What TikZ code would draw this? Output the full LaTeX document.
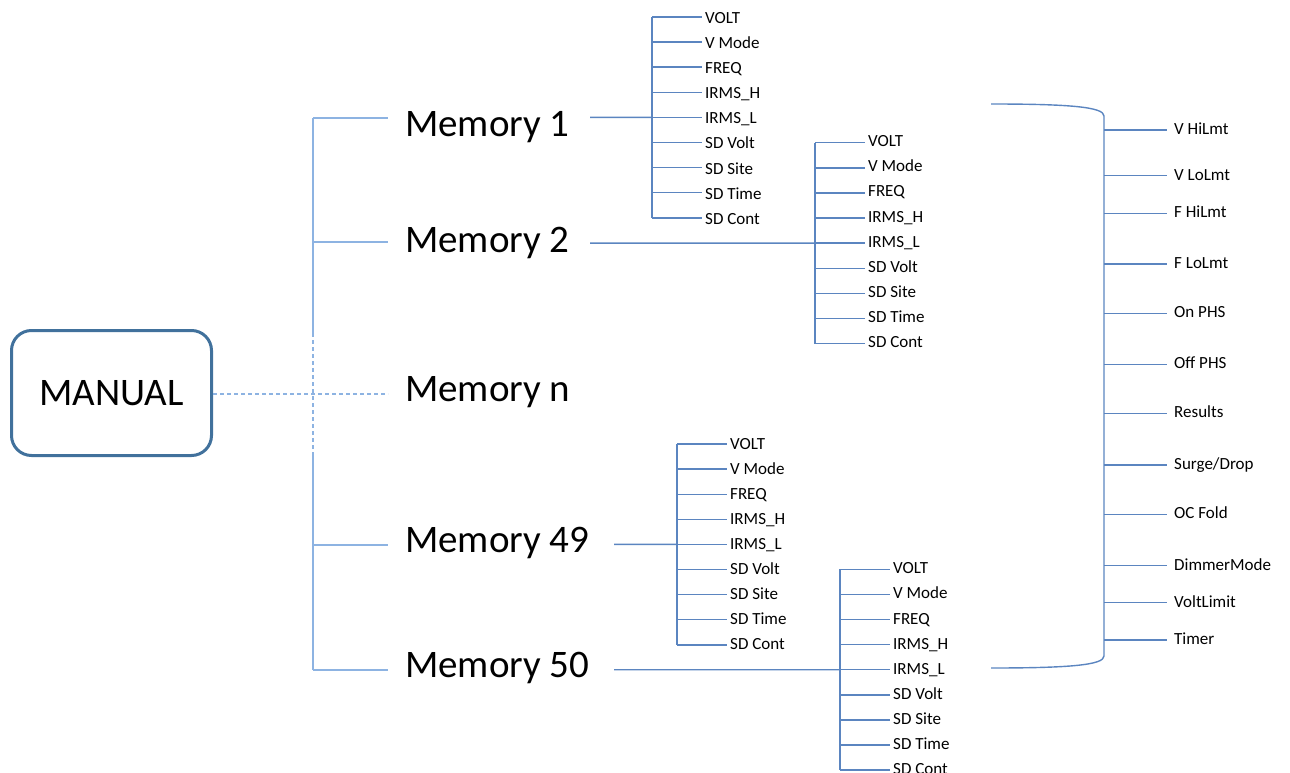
\documentclass[tikz,border=0pt]{standalone}
\usepackage{fontspec}
\setmainfont{Carlito}
\definecolor{trunkc}{HTML}{8DB3E2}
\definecolor{branchc}{HTML}{5B85C0}
\definecolor{boxc}{HTML}{41719C}
\newcommand\bigfont{\fontsize{39}{46}\selectfont}
\newcommand\smallfont{\fontsize{17}{20}\selectfont}
\def\subitems{VOLT,V Mode,FREQ,IRMS\_H,IRMS\_L,SD Volt,SD Site,SD Time,SD Cont}
% #1 name, #2 bus x, #3 first y, #4 baseline offset
\newcommand\subtree[4]{%
  \foreach \t [count=\i] in \subitems {
    \coordinate (#1-b\i) at (#2,{#3+(\i-1)*25.1});
    \node[smalllbl, inner xsep=3pt] (#1-l\i) at ({#2+50},{#3+(\i-1)*25.1+#4}) {\t};
    \draw[branch] (#1-b\i) -- (#1-l\i.west |- #1-b\i);
  }
  \draw[branch] (#1-b1) -- (#1-b9);
}
\tikzset{
  branch/.style={draw=branchc, line width=1.4pt},
  trunk/.style={draw=trunkc, line width=1.4pt},
  trunkdash/.style={draw=trunkc, line width=1.4pt, dash pattern=on 4pt off 3pt},
  memlbl/.style={anchor=base west, inner sep=0pt, font=\bigfont, text=black},
  smalllbl/.style={anchor=base west, inner ysep=0pt, font=\smallfont, text=black},
}
\begin{document}
\begin{tikzpicture}[x=1pt,y=-1pt]
\useasboundingbox (0,0) rectangle (1290,773);

% MANUAL box
\node[draw=boxc, line width=3pt, rounded corners=20pt, minimum width=200pt,
      minimum height=125pt, inner sep=0pt, font=\bigfont] (manual) at (111.5,393) {MANUAL};

% trunk
\coordinate (t1) at (313,118);
\coordinate (t2) at (313,242);
\coordinate (tn) at (313,394);
\coordinate (t49) at (313,545);
\coordinate (t50) at (313,670);
\coordinate (td1) at (313,333);
\coordinate (td2) at (313,455);
\draw[trunk] (t1) -- (td1);
\draw[trunkdash] (td1) -- (td2);
\draw[trunk] (td2) -- (t50);

% memory labels
\node[memlbl] (mem1) at (405,137) {Memory 1};
\node[memlbl] (mem2) at (405,252) {Memory 2};
\node[memlbl] (memn) at (405,401) {Memory n};
\node[memlbl] (mem49) at (405,552) {Memory 49};
\node[memlbl] (mem50) at (405,677) {Memory 50};

\coordinate (e1) at (388,118);
\coordinate (e2) at (388,242);
\coordinate (en) at (388,394);
\coordinate (e49) at (388,545);
\coordinate (e50) at (388,670);
\draw[trunk] (t1) -- (e1);
\draw[trunk] (t2) -- (e2);
\draw[trunkdash] (manual.east |- en) -- (en);
\draw[trunk] (t49) -- (e49);
\draw[trunk] (t50) -- (e50);

% sub-trees
\subtree{s1}{652}{17}{6.5}
\subtree{s2}{815}{142.7}{4}
\subtree{s49}{677}{444}{5}
\subtree{s50}{840}{569.3}{4.5}

\coordinate (o1) at (590,117.4);
\coordinate (o2) at (590,243.1);
\coordinate (o49) at (614,544.4);
\coordinate (o50) at (614,669.7);
\draw[branch] (o1) -- (s1-b5);
\draw[branch] (o2) -- (s2-b5);
\draw[branch] (o49) -- (s49-b5);
\draw[branch] (o50) -- (s50-b5);

% bracket
\coordinate (brt) at (991,104);
\coordinate (brb) at (991,668);
\coordinate (bus1) at (1104,116);
\coordinate (bus2) at (1104,656);
\draw[branch] (brt) .. controls (1070,104) and (1104,107) .. (bus1) -- (bus2)
   .. controls (1104,665) and (1070,668) .. (brb);

\foreach \y/\t [count=\i] in {130/V HiLmt,175.7/V LoLmt,213.3/F HiLmt,264/F LoLmt,
   313.3/On PHS,364.3/Off PHS,413.3/Results,465/Surge\slash Drop,514.3/OC Fold,
   565.7/DimmerMode,602.7/VoltLimit,640/Timer} {
  \coordinate (r-b\i) at (1104,\y);
  \node[smalllbl, inner xsep=7pt] (r-l\i) at (1167,\y+4.5) {\t};
  \draw[branch] (r-b\i) -- (r-l\i.west |- r-b\i);
}
\end{tikzpicture}
\end{document}
